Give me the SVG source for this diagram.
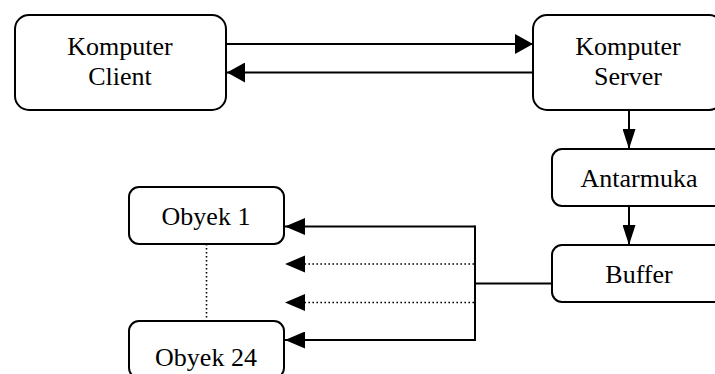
<svg xmlns="http://www.w3.org/2000/svg" width="715" height="374" viewBox="0 0 715 374">
  <style>
    .box { fill: #fff; stroke: #000; stroke-width: 2; }
    .lbl { font-family: "Liberation Serif", "Times New Roman", serif; font-size: 26px; fill: #000; text-anchor: middle; }
    .ln { fill: none; stroke: #000; stroke-width: 2; }
    .dot { fill: none; stroke: #000; stroke-width: 1.6; stroke-dasharray: 1.6 2.4; }
  </style>
  <defs>
    <marker id="headWide" markerUnits="userSpaceOnUse" markerWidth="18" markerHeight="20" refX="18" refY="10" orient="auto">
      <path d="M0,0 L18,10 L0,20 z" fill="#000"/>
    </marker>
    <marker id="headObj" markerUnits="userSpaceOnUse" markerWidth="20" markerHeight="17" refX="20" refY="8.5" orient="auto">
      <path d="M0,0 L20,8.5 L0,17 z" fill="#000"/>
    </marker>
    <marker id="headDown" markerUnits="userSpaceOnUse" markerWidth="20" markerHeight="13" refX="20" refY="6.5" orient="auto">
      <path d="M0,0 L20,6.5 L0,13 z" fill="#000"/>
    </marker>
  </defs>

  <g id="connectors">
    <path class="ln" d="M227,44 H533" marker-end="url(#headWide)"/>
    <path class="ln" d="M533,72.5 H227" marker-end="url(#headWide)"/>
    <path class="ln" d="M629,110 V149" marker-end="url(#headDown)"/>
    <path class="ln" d="M629,206 V245" marker-end="url(#headDown)"/>
    <path class="ln" d="M552,283.5 H475"/>
    <path class="ln" d="M475,225.5 V341"/>
    <path class="ln" d="M475,226.5 H285" marker-end="url(#headObj)"/>
    <path class="ln" d="M475,340 H285" marker-end="url(#headObj)"/>
    <path class="dot" d="M474,264 H300"/>
    <path d="M285,264 L305,255.5 L305,272.5 z" fill="#000"/>
    <path class="dot" d="M474,302.5 H300"/>
    <path d="M285,302.5 L305,294 L305,311 z" fill="#000"/>
    <path class="dot" d="M206.5,244 V321"/>
  </g>

  <g id="client">
    <rect class="box" x="15" y="15" width="211" height="95" rx="14"/>
    <text class="lbl" x="120" y="55">Komputer</text>
    <text class="lbl" x="120" y="85">Client</text>
  </g>

  <g id="server">
    <rect class="box" x="533" y="15" width="190" height="95" rx="14"/>
    <text class="lbl" x="628" y="55">Komputer</text>
    <text class="lbl" x="628" y="85">Server</text>
  </g>

  <g id="antarmuka">
    <rect class="box" x="552" y="149" width="174" height="57" rx="10"/>
    <text class="lbl" x="639" y="187">Antarmuka</text>
  </g>

  <g id="buffer">
    <rect class="box" x="552" y="245" width="174" height="57" rx="10"/>
    <text class="lbl" x="639" y="283">Buffer</text>
  </g>

  <g id="obyek1">
    <rect class="box" x="129" y="187" width="155" height="57" rx="10"/>
    <text class="lbl" x="206" y="225">Obyek 1</text>
  </g>

  <g id="obyek24">
    <rect class="box" x="129" y="321" width="155" height="57" rx="10"/>
    <text class="lbl" x="206" y="366">Obyek 24</text>
  </g>
</svg>
